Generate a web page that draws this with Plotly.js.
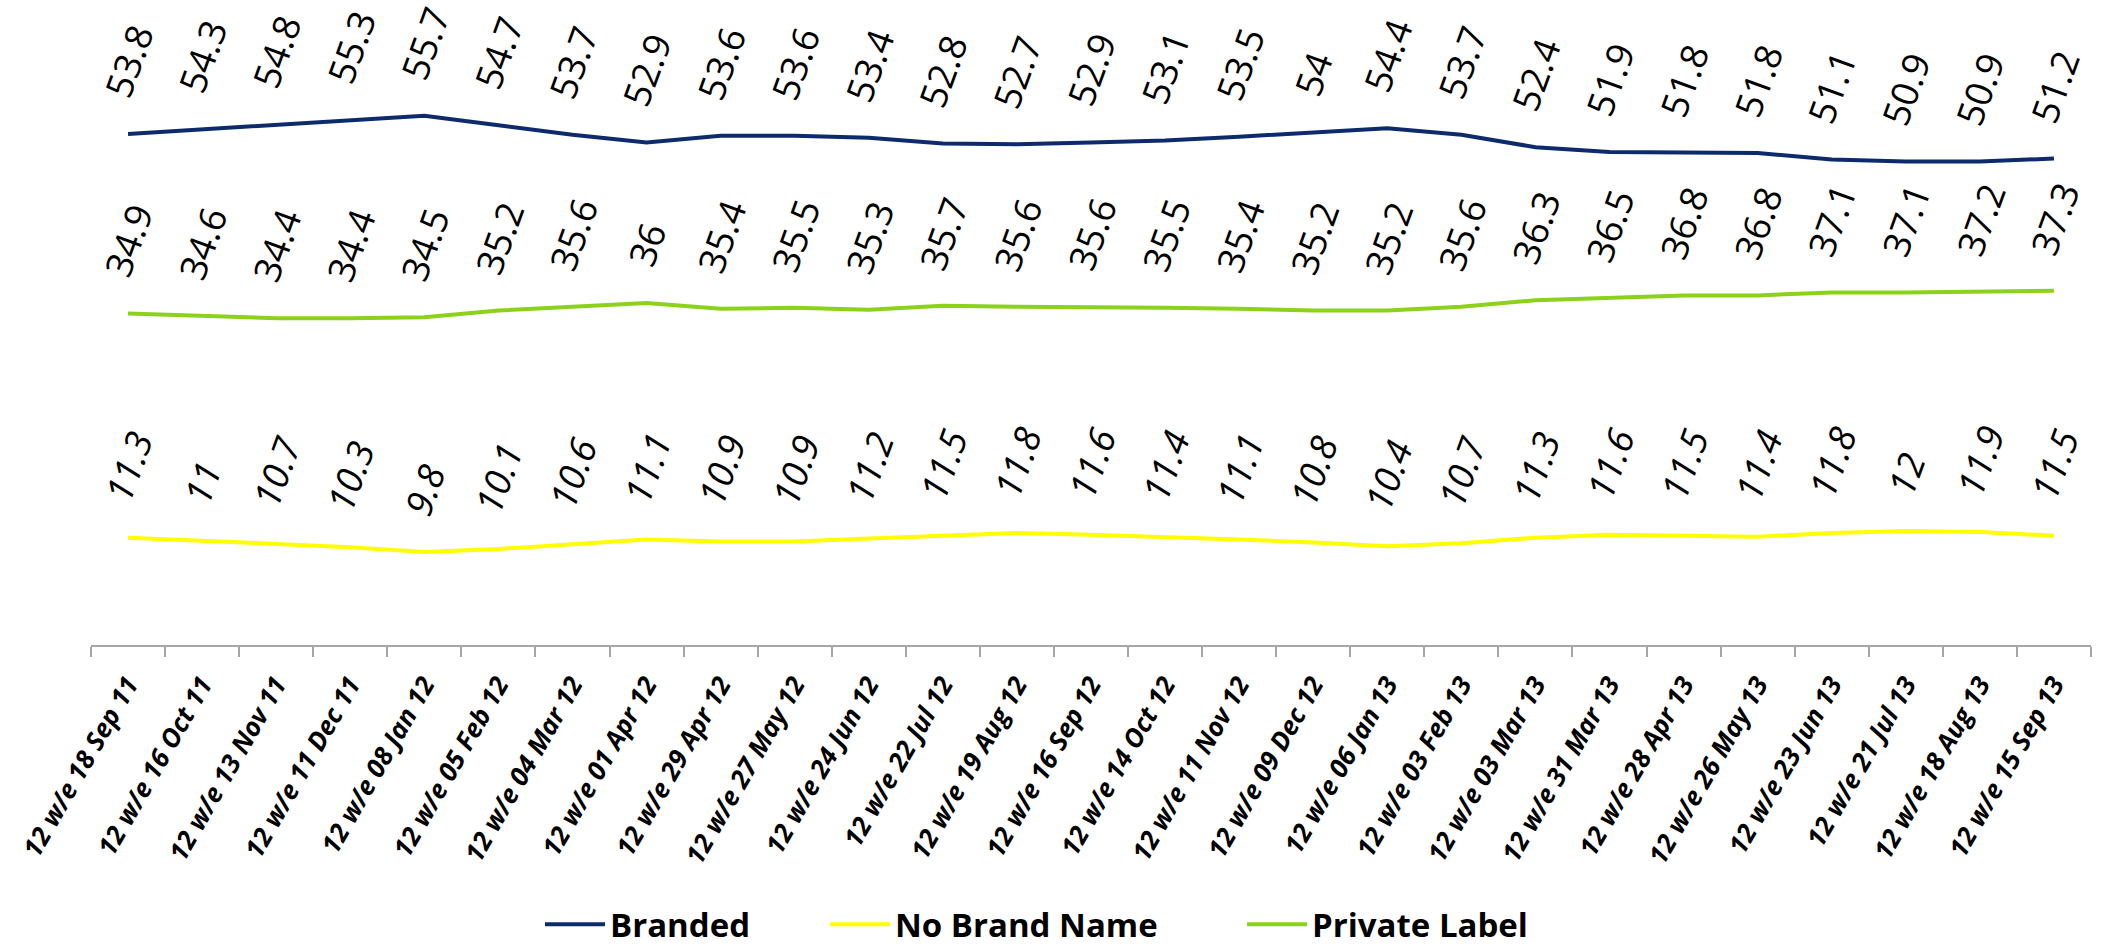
<!DOCTYPE html>
<html>
<head>
<meta charset="utf-8">
<script src="https://cdn.plot.ly/plotly-3.0.1.min.js"></script>
<style>
  html, body { margin: 0; padding: 0; background: #ffffff; }
  #chart { width: 2105px; height: 949px; }
</style>
</head>
<body>
<div id="chart"></div>
<script>
// 12-week rolling periods
const periods = [
  "12 w/e 18 Sep 11", "12 w/e 16 Oct 11", "12 w/e 13 Nov 11", "12 w/e 11 Dec 11",
  "12 w/e 08 Jan 12", "12 w/e 05 Feb 12", "12 w/e 04 Mar 12", "12 w/e 01 Apr 12",
  "12 w/e 29 Apr 12", "12 w/e 27 May 12", "12 w/e 24 Jun 12", "12 w/e 22 Jul 12",
  "12 w/e 19 Aug 12", "12 w/e 16 Sep 12", "12 w/e 14 Oct 12", "12 w/e 11 Nov 12",
  "12 w/e 09 Dec 12", "12 w/e 06 Jan 13", "12 w/e 03 Feb 13", "12 w/e 03 Mar 13",
  "12 w/e 31 Mar 13", "12 w/e 28 Apr 13", "12 w/e 26 May 13", "12 w/e 23 Jun 13",
  "12 w/e 21 Jul 13", "12 w/e 18 Aug 13", "12 w/e 15 Sep 13"
];

const branded = [53.8, 54.3, 54.8, 55.3, 55.7, 54.7, 53.7, 52.9, 53.6, 53.6, 53.4, 52.8, 52.7,
  52.9, 53.1, 53.5, 54, 54.4, 53.7, 52.4, 51.9, 51.8, 51.8, 51.1, 50.9, 50.9, 51.2];

const noBrandName = [11.3, 11, 10.7, 10.3, 9.8, 10.1, 10.6, 11.1, 10.9, 10.9, 11.2, 11.5, 11.8,
  11.6, 11.4, 11.1, 10.8, 10.4, 10.7, 11.3, 11.6, 11.5, 11.4, 11.8, 12, 11.9, 11.5];

const privateLabel = [34.9, 34.6, 34.4, 34.4, 34.5, 35.2, 35.6, 36, 35.4, 35.5, 35.3, 35.7, 35.6,
  35.6, 35.5, 35.4, 35.2, 35.2, 35.6, 36.3, 36.5, 36.8, 36.8, 37.1, 37.1, 37.2, 37.3];

const seriesNames = ["Branded", "No Brand Name", "Private Label"];
const seriesValues = [branded, noBrandName, privateLabel];
const seriesColors = ["#0d2a6d", "#ffff00", "#8cd11a"];
const labelItalic = [false, true, false];

// each series gets its own legend box so the entries can be spaced freely
const legendIds = ["legend", "legend2", "legend3"];
const legendX = [0.2245, 0.367, 0.5755];

const traces = seriesValues.map((vals, i) => ({
  type: "scatter",
  mode: "lines",
  name: seriesNames[i],
  legend: legendIds[i],
  x: periods,
  y: vals,
  line: { color: seriesColors[i], width: 4 },
  hoverinfo: "x+y+name"
}));

// rotated value labels sitting above each point
const annotations = [];
seriesValues.forEach((vals, i) => {
  vals.forEach((v, j) => {
    annotations.push({
      x: periods[j],
      y: v,
      xref: "x",
      yref: "y",
      text: String(v),
      showarrow: false,
      textangle: -70,
      xanchor: "center",
      yanchor: "bottom",
      yshift: 27,
      font: {
        family: "Open Sans, sans-serif",
        size: 37,
        color: "#000000",
        style: labelItalic[i] ? "italic" : "normal"
      }
    });
  });
});

const legendFont = { family: "Open Sans, sans-serif", size: 33, color: "#000000", weight: "bold" };

const layout = {
  width: 2105,
  height: 949,
  margin: { l: 91, r: 14, t: 75, b: 304, autoexpand: false },
  paper_bgcolor: "#ffffff",
  plot_bgcolor: "#ffffff",
  showlegend: true,
  xaxis: {
    type: "category",
    range: [-0.5, periods.length - 0.5],
    tickmode: "linear",
    dtick: 1,
    tickson: "boundaries",
    ticks: "outside",
    ticklen: 10,
    tickwidth: 2,
    tickcolor: "#a6a6a6",
    showline: true,
    linecolor: "#a6a6a6",
    linewidth: 2,
    showgrid: false,
    zeroline: false,
    tickangle: -60,
    ticklabelstandoff: 12,
    tickfont: { family: "Open Sans, sans-serif", size: 26, color: "#000000", weight: "bold", style: "italic" },
    fixedrange: true
  },
  yaxis: {
    range: [0, 60],
    visible: false,
    showgrid: false,
    zeroline: false,
    fixedrange: true
  },
  annotations: annotations
};

legendIds.forEach((id, i) => {
  layout[id] = {
    orientation: "h",
    x: legendX[i],
    xanchor: "left",
    y: -0.49,
    yanchor: "middle",
    yref: "paper",
    font: legendFont,
    itemwidth: 60,
    bgcolor: "rgba(0,0,0,0)"
  };
});

Plotly.newPlot("chart", traces, layout, { displayModeBar: false, staticPlot: true });
</script>
</body>
</html>
